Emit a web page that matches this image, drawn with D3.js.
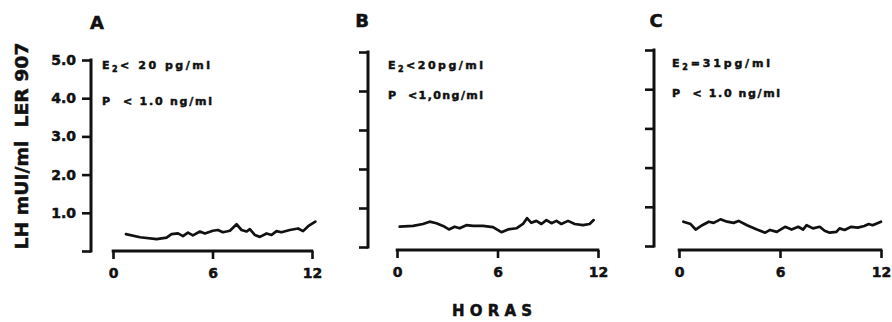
<!DOCTYPE html>
<html>
<head>
<meta charset="utf-8">
<script src="https://cdn.jsdelivr.net/npm/d3@7"></script>
<style>
  html, body { margin: 0; padding: 0; background: #fff; }
  svg { display: block; }
  text { font-family: "DejaVu Sans", "Liberation Sans", sans-serif; font-weight: bold; fill: #111; stroke: #111; stroke-width: 0.5px; }
</style>
</head>
<body>
<svg id="chart" width="892" height="322"></svg>
<script>
// ---------- DATA ----------
const panelNames = ["A", "B", "C"];
const yTickValues = [0, 1, 2, 3, 4, 5];
const yTickLabels = ["", "1.0", "2.0", "3.0", "4.0", "5.0"];
const xTickValues = [0, 6, 12];
const xTickLabels = ["0", "6", "12"];
const yAxisTitle = "LH mUI/ml  LER 907";
const xAxisTitle = "HORAS";
const e2Text = [["E", "2", "< 20 pg/ml"], ["E", "2", "<20pg/ml"], ["E", "2", "=31pg/ml"]];
const pText = ["P  < 1.0 ng/ml", "P  <1,0ng/ml", "P  < 1.0 ng/ml"];

const hoursA = [0.78,1.63,2.63,3.23,3.53,3.92,4.22,4.52,4.82,5.24,5.54,6.02,6.33,6.63,7.05,7.45,7.75,8.05,8.25,8.55,8.86,9.26,9.56,9.86,10.16,10.66,11.16,11.46,11.77,12.2];
const lhA    = [0.44,0.36,0.31,0.35,0.44,0.46,0.39,0.48,0.41,0.51,0.46,0.53,0.55,0.49,0.53,0.70,0.55,0.51,0.57,0.42,0.37,0.46,0.42,0.52,0.49,0.55,0.59,0.52,0.65,0.77];

const hoursB = [0.16,0.96,1.55,1.95,2.35,2.75,3.10,3.44,3.74,4.14,4.54,5.13,5.73,6.23,6.63,7.13,7.52,7.76,8.02,8.32,8.62,8.92,9.22,9.52,9.81,10.21,10.61,11.10,11.50,11.74];
const lhB    = [0.52,0.54,0.59,0.65,0.61,0.54,0.45,0.52,0.48,0.56,0.54,0.54,0.51,0.38,0.45,0.48,0.59,0.74,0.62,0.67,0.59,0.69,0.61,0.67,0.59,0.67,0.59,0.56,0.59,0.69];

const hoursC = [0.26,0.69,0.99,1.38,1.77,2.06,2.46,2.86,3.24,3.54,4.04,4.63,5.12,5.41,5.81,6.30,6.69,7.08,7.37,7.58,7.96,8.36,8.65,8.95,9.35,9.54,9.84,10.23,10.62,11.01,11.27,11.50,12.0];
const lhC    = [0.62,0.56,0.42,0.53,0.62,0.59,0.68,0.62,0.59,0.64,0.53,0.42,0.34,0.41,0.36,0.49,0.42,0.49,0.42,0.53,0.45,0.49,0.39,0.34,0.36,0.45,0.41,0.49,0.47,0.51,0.56,0.53,0.62];

const seriesHours = [hoursA, hoursB, hoursC];
const seriesLH = [lhA, lhB, lhC];

// ---------- LAYOUT ----------
const layout = [
  { yAxisX: 91,  yBottom: 251, yTop: 60, xLeft: 113, xRight: 312, xAxisY: 251, labelX: 97,  labelY: 29, annX: 102, annW1: 108, annW2: 110, annY1: 69, annY2: 105, showYLabels: true },
  { yAxisX: 368, yBottom: 247, yTop: 52, xLeft: 397, xRight: 598, xAxisY: 250, labelX: 362, labelY: 27, annX: 388, annW1: 95,  annW2: 95,  annY1: 69, annY2: 99,  showYLabels: false },
  { yAxisX: 654, yBottom: 246, yTop: 50, xLeft: 679, xRight: 881, xAxisY: 250, labelX: 656, labelY: 27, annX: 672, annW1: 98,  annW2: 108, annY1: 67, annY2: 97,  showYLabels: false }
];

const svg = d3.select("#chart");
const ink = "#111";

layout.forEach((L, i) => {
  const g = svg.append("g");
  const x = d3.scaleLinear().domain([0, 12]).range([L.xLeft, L.xRight]);
  const y = d3.scaleLinear().domain([0, 5]).range([L.yBottom, L.yTop]);

  // y axis
  const yAxis = d3.axisLeft(y).tickValues(yTickValues)
    .tickFormat((d, k) => L.showYLabels ? yTickLabels[k] : "")
    .tickSize(9).tickSizeOuter(0).tickPadding(6);
  const ya = g.append("g").attr("transform", `translate(${L.yAxisX},0)`).call(yAxis);
  ya.select(".domain").attr("stroke", ink).attr("stroke-width", 3).attr("d", `M0,${y(0)+1.5}V${y(5)-1.5}`);
  ya.selectAll(".tick line").attr("stroke", ink).attr("stroke-width", 2.6);
  ya.selectAll(".tick text").style("font-size", "14px").attr("fill", ink)
    .style("font-family", "DejaVu Sans").style("font-weight", "bold");

  // x axis
  const xAxis = d3.axisBottom(x).tickValues(xTickValues)
    .tickFormat((d, k) => xTickLabels[k])
    .tickSize(8).tickSizeOuter(0).tickPadding(9);
  const xa = g.append("g").attr("transform", `translate(0,${L.xAxisY})`).call(xAxis);
  xa.select(".domain").attr("stroke", ink).attr("stroke-width", 3).attr("d", `M${x(0)-1.3},0H${x(12)+1.3}`);
  xa.selectAll(".tick line").attr("stroke", ink).attr("stroke-width", 2.6);
  xa.selectAll(".tick text").style("font-size", "14px").attr("fill", ink)
    .style("font-family", "DejaVu Sans").style("font-weight", "bold");

  // data line
  const pts = seriesHours[i].map((h, k) => [h, seriesLH[i][k]]);
  const line = d3.line().x(d => x(d[0])).y(d => y(d[1]));
  g.append("path").datum(pts).attr("d", line)
    .attr("fill", "none").attr("stroke", ink).attr("stroke-width", 2.7)
    .attr("stroke-linejoin", "round").attr("stroke-linecap", "round");

  // panel label
  g.append("text").attr("x", L.labelX).attr("y", L.labelY)
    .attr("text-anchor", "middle").style("font-size", "18px").text(panelNames[i]);

  // annotations
  const t1 = g.append("text").attr("x", L.annX).attr("y", L.annY1).style("font-size", "11px")
    .attr("textLength", L.annW1).attr("lengthAdjust", "spacing");
  t1.append("tspan").text(e2Text[i][0]);
  t1.append("tspan").attr("dy", 3).style("font-size", "8px").text(e2Text[i][1]);
  t1.append("tspan").attr("dy", -3).text(e2Text[i][2]);
  g.append("text").attr("x", L.annX).attr("y", L.annY2).style("font-size", "11px")
    .attr("textLength", L.annW2).attr("lengthAdjust", "spacing")
    .style("white-space", "pre").text(pText[i]);
});

// y axis title
svg.append("text")
  .attr("transform", "translate(28,146) rotate(-90)")
  .attr("text-anchor", "middle")
  .style("font-size", "18px")
  .attr("textLength", 207).attr("lengthAdjust", "spacingAndGlyphs")
  .style("white-space", "pre")
  .text(yAxisTitle);

// x axis title
svg.append("text")
  .attr("x", 452).attr("y", 316)
  .style("font-size", "15px")
  .attr("textLength", 80).attr("lengthAdjust", "spacing")
  .text(xAxisTitle);
</script>
</body>
</html>
